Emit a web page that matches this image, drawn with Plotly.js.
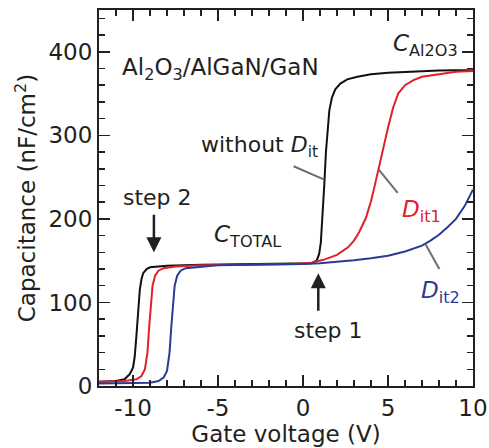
<!DOCTYPE html>
<html>
<head>
<meta charset="utf-8">
<script src="https://cdn.plot.ly/plotly-3.0.1.min.js"></script>
<style>html,body{margin:0;padding:0;background:#fff;}#chart{width:489px;height:448px;}</style>
</head>
<body>
<div id="chart"></div>
<script>
// Gate voltage (V) and capacitance (nF/cm^2)
const vBlack = [-12, -11, -10.5, -10.2, -10.0, -9.9, -9.8, -9.7, -9.6, -9.5, -9.4, -9.2, -9.0, -8.5, -8, -6, -4, -2, 0, 0.5, 0.8, 0.95, 1.05, 1.15, 1.25, 1.35, 1.45, 1.55, 1.7, 1.9, 2.2, 2.6, 3.2, 4, 5, 6, 7, 8, 9, 10];
const cBlack = [5, 6, 8, 14, 22, 35, 60, 90, 115, 128, 135, 140, 142, 143, 144, 145, 145.5, 146, 146, 147, 150, 158, 172, 200, 240, 280, 310, 330, 345, 355, 362, 367, 370, 373, 375, 376, 377, 377.5, 378, 378];

const vRed = [-12, -10.5, -9.8, -9.5, -9.3, -9.15, -9.05, -8.95, -8.85, -8.7, -8.5, -8.2, -7.5, -6, -4, -2, -0.5, 0.5, 1.2, 2.0, 2.65, 3.0, 3.3, 3.7, 4.0, 4.2, 4.45, 4.7, 5.0, 5.3, 5.6, 6.0, 6.5, 7, 7.9, 9, 10];
const cRed = [5, 6, 8, 12, 20, 40, 70, 100, 120, 132, 138, 141, 143, 144.5, 145, 145.5, 146, 147.5, 151, 157, 166, 174, 184, 201, 221, 238, 260, 285, 309, 333, 350, 360, 366, 370, 373, 376, 377];

const vBlue = [-12, -10, -9, -8.5, -8.2, -8.0, -7.85, -7.75, -7.65, -7.55, -7.4, -7.2, -6.9, -6, -5, -3, -1, 0, 1, 2, 3, 4, 5, 6, 7, 7.5, 8, 8.5, 9, 9.5, 10];
const cBlue = [3, 3.5, 4, 6, 10, 18, 40, 70, 100, 120, 132, 138, 141, 143, 144.5, 145, 145.5, 146, 147, 148.5, 150.5, 153, 156, 161, 168, 174, 181, 190, 200, 215, 235];

const xTicks = [-10, -5, 0, 5, 10];
const yTicks = [0, 100, 200, 300, 400];

const FONT = 'DejaVu Sans, sans-serif';
const INK = '#231f20';
const RED = '#e0202a';
const BLUE = '#2b3a94';

const traces = [
  {x: vBlack, y: cBlack, mode: 'lines', line: {color: '#111', width: 2}, hoverinfo: 'skip'},
  {x: vRed, y: cRed, mode: 'lines', line: {color: RED, width: 2}, hoverinfo: 'skip'},
  {x: vBlue, y: cBlue, mode: 'lines', line: {color: BLUE, width: 2}, hoverinfo: 'skip'}
];

function txt(x, y, text, color, size, xanchor) {
  return {x: x, y: y, xref: 'x', yref: 'y', text: text, showarrow: false,
    xanchor: xanchor || 'left', yanchor: 'middle', font: {family: FONT, size: size || 22, color: color || INK}};
}
function arrow(x, y, ay) {
  return {x: x, y: y, xref: 'x', yref: 'y', text: '', showarrow: true, ax: 0, ay: ay,
    arrowhead: 2, arrowsize: 1.2, arrowwidth: 2.5, arrowcolor: INK};
}

const layout = {
  width: 489, height: 448,
  margin: {l: 99, r: 16, t: 10, b: 62},
  paper_bgcolor: '#fff', plot_bgcolor: '#fff',
  showlegend: false,
  font: {family: FONT, color: INK},
  xaxis: {
    range: [-12, 10.001], tickvals: xTicks, ticktext: xTicks.map(String),
    ticklabeloverflow: 'allow',
    ticks: 'inside', ticklen: 11, tickwidth: 1.5, tickcolor: INK,
    minor: {dtick: 1, tick0: 0, ticks: 'inside', ticklen: 6, tickwidth: 1.5, tickcolor: INK, showgrid: false},
    showline: true, linewidth: 2, linecolor: INK, mirror: 'allticks',
    showgrid: false, zeroline: false,
    tickfont: {family: FONT, size: 23, color: INK},
    title: {text: 'Gate voltage (V)', font: {family: FONT, size: 23, color: INK}, standoff: 2}
  },
  yaxis: {
    range: [0, 450], tickvals: yTicks, ticktext: yTicks.map(String),
    ticklabeloverflow: 'allow',
    ticks: 'inside', ticklen: 11, tickwidth: 1.5, tickcolor: INK,
    minor: {dtick: 20, tick0: 0, ticks: 'inside', ticklen: 6, tickwidth: 1.5, tickcolor: INK, showgrid: false},
    showline: true, linewidth: 2, linecolor: INK, mirror: 'allticks',
    showgrid: false, zeroline: false,
    tickfont: {family: FONT, size: 23, color: INK},
    title: {text: 'Capacitance (nF/cm<sup>2</sup>)', font: {family: FONT, size: 23, color: INK}, standoff: 6}
  },
  shapes: [
    {type: 'line', xref: 'x', yref: 'y', x0: -0.55, y0: 263, x1: 1.25, y1: 247, line: {color: '#6d6e71', width: 2}},
    {type: 'line', xref: 'x', yref: 'y', x0: 4.46, y0: 259, x1: 5.57, y1: 231, line: {color: '#6d6e71', width: 2}},
    {type: 'line', xref: 'x', yref: 'y', x0: 7.2, y0: 170, x1: 8.02, y1: 140, line: {color: '#6d6e71', width: 2}}
  ],
  annotations: [
    txt(-10.76, 379, 'Al<sub>2</sub>O<sub>3</sub>/AlGaN/GaN', INK, 23),
    txt(5.16, 408, '<i>C</i><sub>Al2O3</sub>', INK, 23),
    txt(-6.09, 287, 'without <i>D</i><sub>it</sub>', INK, 22),
    txt(5.69, 209, '<i>D</i><sub>it1</sub>', RED, 23),
    txt(6.85, 113, '<i>D</i><sub>it2</sub>', BLUE, 23),
    txt(-5.34, 179, '<i>C</i><sub>TOTAL</sub>', INK, 23),
    txt(-8.54, 226, 'step 2', INK, 22, 'center'),
    txt(1.49, 67, 'step 1', INK, 22, 'center'),
    arrow(-8.77, 160, -39),
    arrow(0.9, 135, 39)
  ]
};

Plotly.newPlot('chart', traces, layout, {displayModeBar: false, staticPlot: true});
</script>
</body>
</html>
